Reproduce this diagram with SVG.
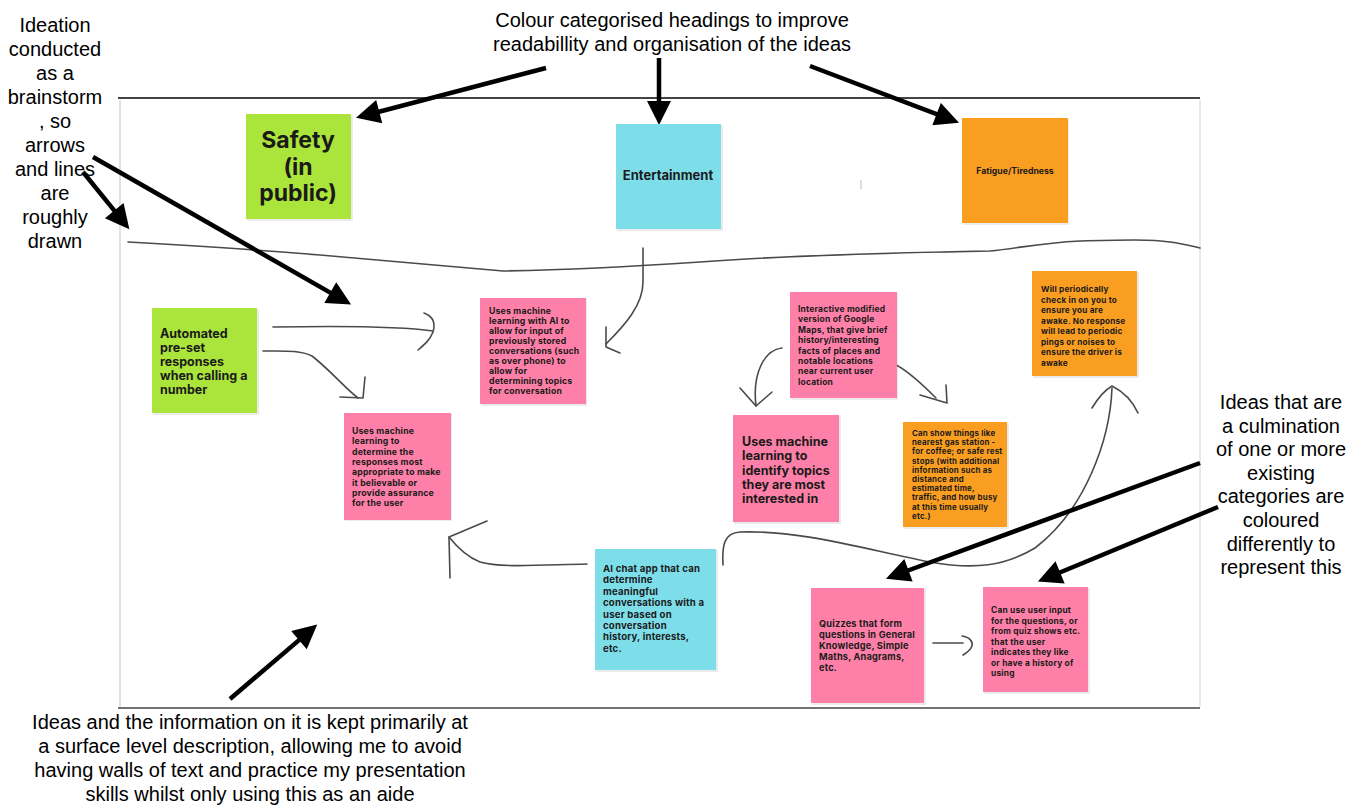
<svg xmlns="http://www.w3.org/2000/svg" width="1356" height="812" viewBox="0 0 1356 812">
<defs>
<style>
.ann{font-family:"Liberation Sans",Arial,sans-serif;font-size:20px;fill:#000;text-anchor:middle}
.nt{font-family:Inter,"Noto Sans",sans-serif;font-weight:700;fill:#1a1a1a}
.sm{letter-spacing:0.2px}
.green{fill:#abe53b}
.pink{fill:#fe80a8}
.cyan{fill:#7ddeea}
.orange{fill:#fa9e22}
.sh{fill:#000;opacity:0.08}
.hand{fill:none;stroke:#4a4a4a;stroke-width:1.6;stroke-linecap:round;stroke-linejoin:round}
.big{fill:none;stroke:#000;stroke-width:4.5;marker-end:url(#ah)}
</style>
<marker id="ah" viewBox="0 0 10 10" refX="5" refY="5" markerWidth="26" markerHeight="24" markerUnits="userSpaceOnUse" orient="auto">
<path d="M0,0 L10,5 L0,10 z" fill="#000"/>
</marker>
</defs>
<rect width="1356" height="812" fill="#fff"/>

<g id="board">
<line x1="120" y1="100" x2="120" y2="707" stroke="#e2e2e2" stroke-width="2"/>
<line x1="1200" y1="100" x2="1200" y2="707" stroke="#e2e2e2" stroke-width="1.5"/>
<line x1="118" y1="98" x2="1200" y2="98" stroke="#444" stroke-width="2"/>
<line x1="118" y1="708" x2="1200" y2="708" stroke="#444" stroke-width="1.5"/>
<line x1="861" y1="180" x2="861" y2="189" stroke="#bbb" stroke-width="1"/>
</g>

<g id="connectors">
<path class="hand" d="M128,242 C180,245 260,250 320,255 C380,260 440,265 503,271 C560,270 640,266 700,262 C780,256 880,253 990,251 C1020,248 1040,243 1080,241 C1120,240 1150,239 1170,242 C1185,244 1195,247 1200,248"/>
<path class="hand" d="M643,248 L643,282 C643,305 625,325 606,344"/>
<path class="hand" d="M606,327 L606,347 L620,353"/>
<path class="hand" d="M273,327 C330,326 400,326 433,331"/>
<path class="hand" d="M424,313 C432,316 436,322 433,332 C430,340 424,345 418,350"/>
<path class="hand" d="M263,351 C285,351 300,350 312,356 C330,370 345,388 358,398"/>
<path class="hand" d="M365,377 L363,398 L340,397"/>
<path class="hand" d="M782,348 C765,350 752,372 756,406"/>
<path class="hand" d="M740,388 L756,406 L772,392"/>
<path class="hand" d="M892,363 C905,368 920,382 936,398"/>
<path class="hand" d="M920,395 L947,403 L946,385"/>
<path class="hand" d="M587,564 C540,565 500,568 480,562 C467,557 457,547 449,537"/>
<path class="hand" d="M487,521 L449,537 L450,578"/>
<path class="hand" d="M723,565 C722,545 724,533 740,532 C800,530 860,548 930,562 C975,570 1005,566 1035,548 C1085,510 1110,440 1112,388"/>
<path class="hand" d="M1092,408 C1098,398 1105,390 1112,386 C1124,392 1133,402 1138,413"/>
<path class="hand" d="M933,643 L963,643"/>
<path class="hand" d="M962,636 C970,637 973,642 972,646 C970,651 966,653 963,655"/>

<line class="big" x1="546" y1="68" x2="367.6" y2="114.7"/>
<line class="big" x1="659" y1="58" x2="659" y2="113"/>
<line class="big" x1="810" y1="66" x2="947.8" y2="118.4"/>
<line class="big" x1="93" y1="157" x2="340.7" y2="298.6"/>
<line class="big" x1="83" y1="172" x2="121.8" y2="219.9"/>
<line class="big" x1="230" y1="699" x2="308.1" y2="632.4"/>
<line class="big" x1="1200" y1="463" x2="897.2" y2="574.5"/>
<line class="big" x1="1218" y1="507" x2="1049" y2="577"/>
</g>

<g id="safety">
<rect class="sh" x="247" y="115" width="106" height="106"/>
<rect class="green" x="246" y="114" width="105" height="105"/>
<text class="nt" font-size="23" text-anchor="middle"><tspan x="298" y="148">Safety</tspan><tspan x="298" y="175">(in</tspan><tspan x="298" y="201">public)</tspan></text>
</g>

<g id="entertainment">
<rect class="sh" x="617" y="125" width="106" height="106"/>
<rect class="cyan" x="616" y="124" width="105" height="105"/>
<text class="nt" font-size="13" text-anchor="middle" x="668" y="180">Entertainment</text>
</g>

<g id="fatigue">
<rect class="sh" x="963" y="119" width="106" height="106"/>
<rect class="orange" x="962" y="118" width="106" height="105"/>
<text class="nt" font-size="8.7" text-anchor="middle" x="1015" y="174">Fatigue/Tiredness</text>
</g>

<g id="automated">
<rect class="sh" x="153" y="309" width="106" height="106"/>
<rect class="green" x="152" y="308" width="105" height="105"/>
<text class="nt" font-size="12.5"><tspan x="160" y="338">Automated</tspan><tspan x="160" y="352">pre-set</tspan><tspan x="160" y="366">responses</tspan><tspan x="160" y="380">when calling a</tspan><tspan x="160" y="394">number</tspan></text>
</g>

<g id="ml-determine">
<rect class="sh" x="345" y="414" width="107" height="107"/>
<rect class="pink" x="344" y="413" width="107" height="107"/>
<text class="nt sm" font-size="8.7"><tspan x="352" y="434">Uses machine</tspan><tspan x="352" y="444.3">learning to</tspan><tspan x="352" y="454.6">determine the</tspan><tspan x="352" y="464.9">responses most</tspan><tspan x="352" y="475.2">appropriate to make</tspan><tspan x="352" y="485.5">it believable or</tspan><tspan x="352" y="495.8">provide assurance</tspan><tspan x="352" y="506.1">for the user</tspan></text>
</g>

<g id="ml-ai">
<rect class="sh" x="481" y="299" width="106" height="107"/>
<rect class="pink" x="480" y="298" width="106" height="106"/>
<text class="nt sm" font-size="8.7"><tspan x="489" y="314">Uses machine</tspan><tspan x="489" y="324">learning with AI to</tspan><tspan x="489" y="334">allow for input of</tspan><tspan x="489" y="344">previously stored</tspan><tspan x="489" y="354">conversations (such</tspan><tspan x="489" y="364">as over phone) to</tspan><tspan x="489" y="374">allow for</tspan><tspan x="489" y="384">determining topics</tspan><tspan x="489" y="394">for conversation</tspan></text>
</g>

<g id="interactive-maps">
<rect class="sh" x="791" y="293" width="107" height="107"/>
<rect class="pink" x="790" y="292" width="107" height="106"/>
<text class="nt sm" font-size="8.5"><tspan x="798" y="312">Interactive modified</tspan><tspan x="798" y="322.4">version of Google</tspan><tspan x="798" y="332.8">Maps, that give brief</tspan><tspan x="798" y="343.2">history/interesting</tspan><tspan x="798" y="353.6">facts of places and</tspan><tspan x="798" y="364">notable locations</tspan><tspan x="798" y="374.4">near current user</tspan><tspan x="798" y="384.8">location</tspan></text>
</g>

<g id="periodic-check">
<rect class="sh" x="1033" y="272" width="106" height="106"/>
<rect class="orange" x="1032" y="271" width="105" height="105"/>
<text class="nt sm" font-size="8.2"><tspan x="1041" y="292">Will periodically</tspan><tspan x="1041" y="302.5">check in on you to</tspan><tspan x="1041" y="313">ensure you are</tspan><tspan x="1041" y="323.5">awake. No response</tspan><tspan x="1041" y="334">will lead to periodic</tspan><tspan x="1041" y="344.5">pings or noises to</tspan><tspan x="1041" y="355">ensure the driver is</tspan><tspan x="1041" y="365.5">awake</tspan></text>
</g>

<g id="ml-topics">
<rect class="sh" x="734" y="416" width="107" height="108"/>
<rect class="pink" x="733" y="415" width="106" height="107"/>
<text class="nt" font-size="12.5"><tspan x="742" y="446">Uses machine</tspan><tspan x="742" y="460">learning to</tspan><tspan x="742" y="474.5">identify topics</tspan><tspan x="742" y="488.5">they are most</tspan><tspan x="742" y="502.5">interested in</tspan></text>
</g>

<g id="gas-station">
<rect class="sh" x="904" y="423" width="105" height="106"/>
<rect class="orange" x="903" y="422" width="104" height="105"/>
<text class="nt sm" font-size="7.9"><tspan x="912" y="436">Can show things like</tspan><tspan x="912" y="445.2">nearest gas station -</tspan><tspan x="912" y="454.4">for coffee; or safe rest</tspan><tspan x="912" y="463.6">stops (with additional</tspan><tspan x="912" y="472.8">information such as</tspan><tspan x="912" y="482">distance and</tspan><tspan x="912" y="491.2">estimated time,</tspan><tspan x="912" y="500.4">traffic, and how busy</tspan><tspan x="912" y="509.6">at this time usually</tspan><tspan x="912" y="518.8">etc.)</tspan></text>
</g>

<g id="ai-chat">
<rect class="sh" x="596" y="550" width="122" height="122"/>
<rect class="cyan" x="595" y="549" width="121" height="121"/>
<text class="nt sm" font-size="9.6"><tspan x="603" y="572">AI chat app that can</tspan><tspan x="603" y="583.4">determine</tspan><tspan x="603" y="594.8">meaningful</tspan><tspan x="603" y="606.2">conversations with a</tspan><tspan x="603" y="617.6">user based on</tspan><tspan x="603" y="629">conversation</tspan><tspan x="603" y="640.4">history, interests,</tspan><tspan x="603" y="651.8">etc.</tspan></text>
</g>

<g id="quizzes">
<rect class="sh" x="812" y="589" width="114" height="116"/>
<rect class="pink" x="811" y="588" width="113" height="115"/>
<text class="nt sm" font-size="9.2"><tspan x="819" y="627">Quizzes that form</tspan><tspan x="819" y="638">questions in General</tspan><tspan x="819" y="649">Knowledge, Simple</tspan><tspan x="819" y="660">Maths, Anagrams,</tspan><tspan x="819" y="671">etc.</tspan></text>
</g>

<g id="user-input">
<rect class="sh" x="984" y="588" width="106" height="106"/>
<rect class="pink" x="983" y="587" width="105" height="105"/>
<text class="nt sm" font-size="8.4"><tspan x="991" y="613">Can use user input</tspan><tspan x="991" y="623.5">for the questions, or</tspan><tspan x="991" y="634">from quiz shows etc.</tspan><tspan x="991" y="644.5">that the user</tspan><tspan x="991" y="655">indicates they like</tspan><tspan x="991" y="665.5">or have a history of</tspan><tspan x="991" y="676">using</tspan></text>
</g>

<g id="note-ideation">
<text class="ann"><tspan x="55" y="32">Ideation</tspan><tspan x="55" y="56">conducted</tspan><tspan x="55" y="80">as a</tspan><tspan x="55" y="104">brainstorm</tspan><tspan x="55" y="128">, so</tspan><tspan x="55" y="152">arrows</tspan><tspan x="55" y="176">and lines</tspan><tspan x="55" y="200">are</tspan><tspan x="55" y="224">roughly</tspan><tspan x="55" y="248">drawn</tspan></text>
</g>
<g id="note-colour">
<text class="ann"><tspan x="672" y="27">Colour categorised headings to improve</tspan><tspan x="672" y="51">readabillity and organisation of the ideas</tspan></text>
</g>
<g id="note-culmination">
<text class="ann" font-size="21"><tspan x="1281" y="409">Ideas that are</tspan><tspan x="1281" y="432.6">a culmination</tspan><tspan x="1281" y="456.2">of one or more</tspan><tspan x="1281" y="479.8">existing</tspan><tspan x="1281" y="503.4">categories are</tspan><tspan x="1281" y="527">coloured</tspan><tspan x="1281" y="550.6">differently to</tspan><tspan x="1281" y="574.2">represent this</tspan></text>
</g>
<g id="note-surface">
<text class="ann"><tspan x="250" y="729">Ideas and the information on it is kept primarily at</tspan><tspan x="250" y="753">a surface level description, allowing me to avoid</tspan><tspan x="250" y="777">having walls of text and practice my presentation</tspan><tspan x="250" y="801">skills whilst only using this as an aide</tspan></text>
</g>
</svg>
